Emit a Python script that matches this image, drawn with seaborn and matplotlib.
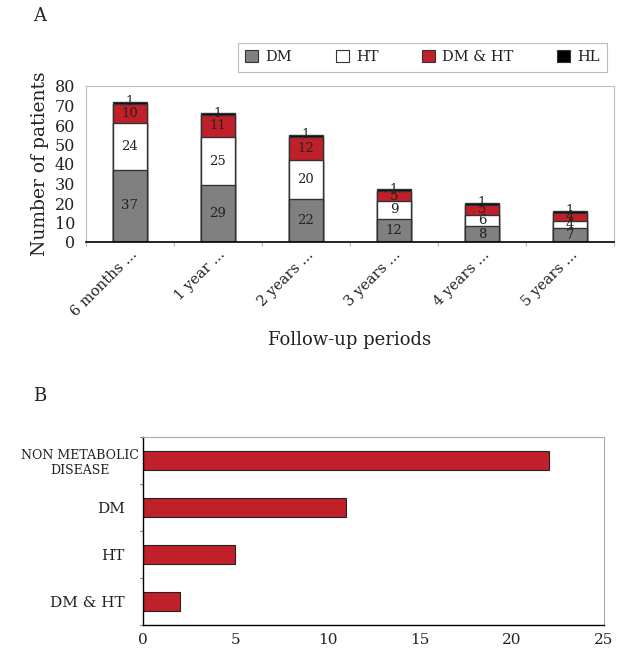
import matplotlib
matplotlib.use("Agg")
import matplotlib.pyplot as plt
import matplotlib.transforms as mtransforms
from matplotlib.patches import Patch
import numpy as np
import pandas as pd
import seaborn as sns

sns.set_theme(style="white")
plt.rcParams['font.family'] = ['DejaVu Serif', 'DejaVu Sans']

# ---- data ----
periods = ["6 months ...", "1 year ...", "2 years ...", "3 years ...", "4 years ...", "5 years ..."]
dm = [37, 29, 22, 12, 8, 7]
ht = [24, 25, 20, 9, 6, 4]
dm_ht = [10, 11, 12, 5, 5, 4]
hl = [1, 1, 1, 1, 1, 1]
series_names = ["DM", "HT", "DM & HT", "HL"]

b_categories = ["NON METABOLIC\nDISEASE", "DM", "HT", "DM & HT"]
b_values = [22, 11, 5, 2]

colors = {"DM": "#808080", "HT": "#FFFFFF", "DM & HT": "#C0202A", "HL": "#000000"}
RED = "#C0202A"
TXT = "#222222"

fig = plt.figure(figsize=(6.18, 6.49), dpi=100)
W, H = 618, 649
def ax_rect(l, t, r, b):
    return [l / W, 1 - b / H, (r - l) / W, (b - t) / H]

# ---------------- Panel A ----------------
axA = fig.add_axes(ax_rect(86, 86, 614, 242))
df = pd.DataFrame({"period": periods, "DM": dm, "HT": ht, "DM & HT": dm_ht, "HL": hl})
df["c1"] = df["DM"]
df["c2"] = df["c1"] + df["HT"]
df["c3"] = df["c2"] + df["DM & HT"]
df["c4"] = df["c3"] + df["HL"]

for col, name in [("c4", "HL"), ("c3", "DM & HT"), ("c2", "HT"), ("c1", "DM")]:
    sns.barplot(data=df, x="period", y=col, color=colors[name], saturation=1,
                width=0.38, edgecolor="#333333", linewidth=1.0, ax=axA, order=periods)

for i in range(len(periods)):
    b0 = 0
    for val in [dm[i], ht[i], dm_ht[i]]:
        axA.text(i, b0 + val / 2, str(val), ha="center", va="center", fontsize=9.5, color=TXT)
        b0 += val
    axA.text(i, b0 + hl[i] / 2 + 0.6, str(hl[i]), ha="center", va="center", fontsize=9.5, color=TXT)

axA.set_ylim(0, 80)
axA.set_xlim(-0.5, 5.5)
axA.set_yticks(range(0, 81, 10))
axA.tick_params(axis="y", labelsize=11.5, length=0, pad=8, colors=TXT)
axA.tick_params(axis="x", labelsize=10.5, length=0, pad=4, colors=TXT)
for lab in axA.get_xticklabels():
    lab.set_rotation(45)
    lab.set_ha("right")
    lab.set_rotation_mode("anchor")
axA.set_ylabel("Number of patients", fontsize=13.5, color=TXT, labelpad=4)
axA.set_xlabel("Follow-up periods", fontsize=13, color=TXT, labelpad=8)
for s in ["top", "right", "left"]:
    axA.spines[s].set_color("#BBBBBB")
    axA.spines[s].set_linewidth(0.8)
axA.spines["bottom"].set_color("#000000")
axA.spines["bottom"].set_linewidth(1.2)
# category separators below axis
for k in range(7):
    axA.plot([k - 0.5, k - 0.5], [0, -2], color="#BBBBBB", lw=0.8, clip_on=False)

handles = [Patch(facecolor=colors[n], edgecolor="#333333", linewidth=0.8, label=n) for n in series_names]
leg = fig.legend(handles=handles, loc="upper left", ncol=4, mode="expand",
                 bbox_to_anchor=(238 / W, 1 - 75 / H, (607 - 238) / W, 32 / H),
                 frameon=True, fancybox=False, fontsize=10.5, handlelength=0.9,
                 handleheight=0.9, handletextpad=0.5, borderaxespad=0, borderpad=0.5)
leg.get_frame().set_edgecolor("#AAAAAA")
leg.get_frame().set_linewidth(0.8)
for t in leg.get_texts():
    t.set_color(TXT)

fig.text(40 / W, 1 - 16 / H, "A", fontsize=13, color=TXT, ha="center", va="center")
fig.text(40 / W, 1 - 396 / H, "B", fontsize=13, color=TXT, ha="center", va="center")

# ---------------- Panel B ----------------
axB = fig.add_axes(ax_rect(143, 437, 604, 625))
dfb = pd.DataFrame({"cat": b_categories, "val": b_values})
sns.barplot(data=dfb, y="cat", x="val", orient="h", color=RED, saturation=1, width=0.4,
            edgecolor="#222222", linewidth=0.8, ax=axB, order=b_categories)
axB.set_xlim(0, 25)
axB.set_ylim(3.5, -0.5)
axB.set_xticks([0, 5, 10, 15, 20, 25])
axB.set_xlabel("")
axB.set_ylabel("")
axB.tick_params(axis="x", labelsize=11, length=4, width=0.8, color="#666666", colors=TXT, pad=2)
axB.tick_params(axis="x", color="#666666")
axB.tick_params(axis="y", labelsize=11, length=0, pad=13, colors=TXT)
labs = axB.get_yticklabels()
labs[0].set_fontsize(9)
labs[0].set_multialignment("center")
labs[0].set_transform(labs[0].get_transform() +
                      mtransforms.ScaledTranslation(14 / 100, 0, fig.dpi_scale_trans))
for lab in labs:
    lab.set_color(TXT)
for k in range(5):
    axB.plot([0, -0.15], [k - 0.5, k - 0.5], color="#888888", lw=0.8, clip_on=False)
for s in ["top", "right"]:
    axB.spines[s].set_color("#AAAAAA")
    axB.spines[s].set_linewidth(0.8)
for s in ["left", "bottom"]:
    axB.spines[s].set_color("#000000")
    axB.spines[s].set_linewidth(1.0)

fig.savefig("out.png", dpi=100)
